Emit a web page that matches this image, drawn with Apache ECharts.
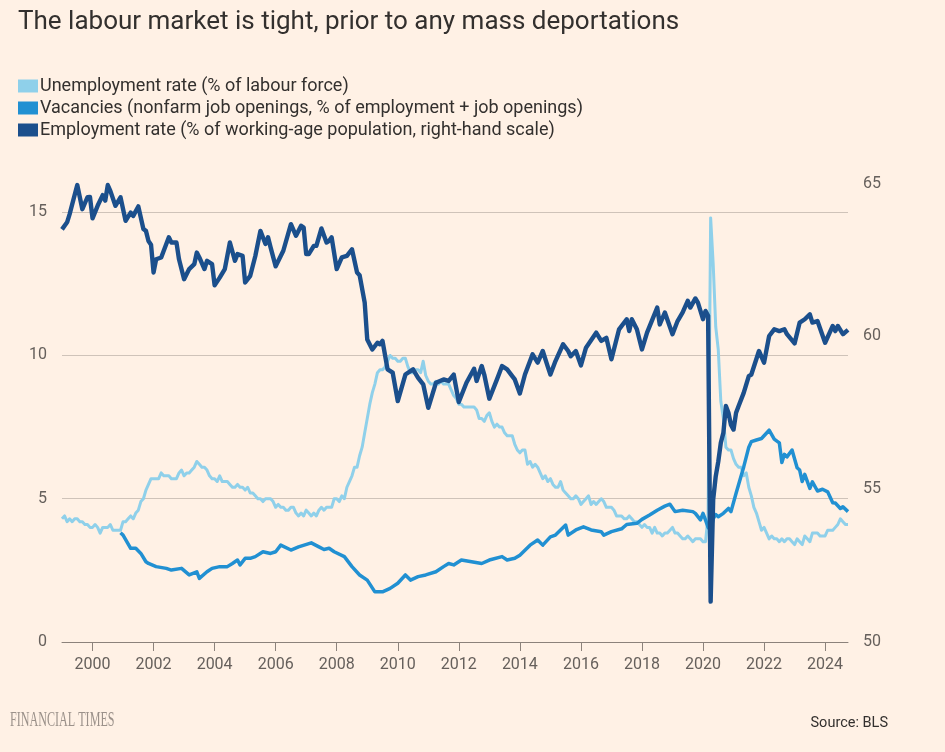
<!DOCTYPE html>
<html>
<head>
<meta charset="utf-8">
<script src="https://cdn.jsdelivr.net/npm/echarts@6/dist/echarts.min.js"></script>
<style>
  html, body { margin: 0; padding: 0; background: #fff1e5; }
  #chart { width: 945px; height: 752px; }
</style>
</head>
<body>
<div id="chart"></div>
<script>
// ---------------- DATA ----------------
const titleText = 'The labour market is tight, prior to any mass deportations';
const seriesNames = [
  'Unemployment rate (% of labour force)',
  'Vacancies (nonfarm job openings, % of employment + job openings)',
  'Employment rate (% of working-age population, right-hand scale)'
];
const sourceText = 'Source: BLS';
const brandText = 'FINANCIAL TIMES';

// monthly categories Jan 1999 .. Oct 2024
const firstYear = 1999, lastYear = 2024, lastMonth = 10;
const months = [];
for (let y = firstYear; y <= lastYear; y++) {
  for (let m = 1; m <= 12; m++) {
    if (y === lastYear && m > lastMonth) break;
    months.push(y + '-' + (m < 10 ? '0' + m : '' + m));
  }
}

// Unemployment rate, monthly from 1999-01 (left axis)
const unemploymentRate = [
  4.3,4.4,4.2,4.3,4.2,4.3,4.3,4.2,4.2,4.1,4.1,4.0,
  4.0,4.1,4.0,3.8,4.0,4.0,4.0,4.1,3.9,3.9,3.9,3.9,
  4.2,4.2,4.3,4.4,4.3,4.5,4.6,4.9,5.0,5.3,5.5,5.7,
  5.7,5.7,5.7,5.9,5.8,5.8,5.8,5.7,5.7,5.7,5.9,6.0,
  5.8,5.9,5.9,6.0,6.1,6.3,6.2,6.1,6.1,6.0,5.8,5.7,
  5.7,5.6,5.8,5.6,5.6,5.6,5.5,5.4,5.4,5.5,5.4,5.4,
  5.3,5.4,5.2,5.2,5.1,5.0,5.0,4.9,5.0,5.0,5.0,4.9,
  4.7,4.8,4.7,4.7,4.6,4.6,4.7,4.7,4.5,4.4,4.5,4.4,
  4.6,4.5,4.4,4.5,4.4,4.6,4.7,4.6,4.7,4.7,4.7,5.0,
  5.0,4.9,5.1,5.0,5.4,5.6,5.8,6.1,6.1,6.5,6.8,7.3,
  7.8,8.3,8.7,9.0,9.4,9.5,9.5,9.6,9.8,10.0,9.9,9.9,
  9.8,9.8,9.9,9.9,9.6,9.4,9.4,9.5,9.5,9.4,9.8,9.3,
  9.1,9.0,9.0,9.1,9.0,9.1,9.0,9.0,9.0,8.8,8.6,8.5,
  8.3,8.3,8.2,8.2,8.2,8.2,8.2,8.1,7.8,7.8,7.7,7.9,
  8.0,7.7,7.5,7.6,7.5,7.5,7.3,7.2,7.2,7.2,6.9,6.7,
  6.6,6.7,6.7,6.2,6.3,6.1,6.2,6.1,5.9,5.7,5.8,5.6,
  5.7,5.5,5.4,5.4,5.6,5.3,5.2,5.1,5.0,5.0,5.1,5.0,
  4.8,4.9,5.0,5.1,4.8,4.9,4.8,4.9,5.0,4.9,4.7,4.7,
  4.7,4.6,4.4,4.4,4.4,4.3,4.3,4.4,4.3,4.2,4.2,4.1,
  4.0,4.1,4.0,4.0,3.8,4.0,3.8,3.8,3.7,3.8,3.8,3.9,
  4.0,3.8,3.8,3.7,3.6,3.6,3.7,3.6,3.5,3.6,3.6,3.6,
  3.5,3.5,4.4,14.8,13.2,11.0,10.2,8.4,7.8,6.8,6.7,6.7,
  6.4,6.2,6.1,6.1,5.8,5.9,5.4,5.1,4.7,4.5,4.2,3.9,
  4.0,3.8,3.6,3.7,3.6,3.6,3.5,3.6,3.5,3.6,3.6,3.5,
  3.4,3.6,3.5,3.4,3.7,3.6,3.5,3.8,3.8,3.8,3.7,3.7,
  3.7,3.9,3.9,3.9,4.0,4.1,4.3,4.2,4.1,4.1
];

// Vacancies (job openings rate), [month, value] (left axis)
const vacancies = [
  ['2000-12',3.81],['2001-01',3.73],['2001-04',3.27],['2001-06',3.27],['2001-08',3.09],
  ['2001-10',2.80],['2001-11',2.74],['2002-02',2.63],['2002-06',2.57],['2002-08',2.51],
  ['2002-12',2.57],['2003-03',2.34],['2003-06',2.45],['2003-07',2.22],['2003-10',2.45],
  ['2003-12',2.57],['2004-03',2.63],['2004-06',2.63],['2004-08',2.74],['2004-10',2.86],
  ['2004-11',2.69],['2005-01',2.92],['2005-03',2.92],['2005-05',2.98],['2005-08',3.15],
  ['2005-11',3.09],['2006-01',3.15],['2006-03',3.38],['2006-07',3.21],['2006-10',3.32],
  ['2007-03',3.46],['2007-06',3.32],['2007-08',3.23],['2007-10',3.27],['2007-12',3.15],
  ['2008-04',2.98],['2008-07',2.63],['2008-10',2.34],['2009-01',2.16],['2009-04',1.75],
  ['2009-07',1.75],['2009-10',1.87],['2010-01',2.05],['2010-04',2.34],['2010-06',2.16],
  ['2010-09',2.28],['2010-12',2.34],['2011-04',2.45],['2011-07',2.63],['2011-09',2.74],
  ['2011-11',2.69],['2012-02',2.86],['2012-06',2.80],['2012-10',2.74],['2013-01',2.86],
  ['2013-06',2.98],['2013-08',2.86],['2013-11',2.92],['2014-01',3.03],['2014-05',3.38],
  ['2014-08',3.56],['2014-10',3.38],['2015-01',3.67],['2015-03',3.73],['2015-07',4.08],
  ['2015-08',3.73],['2015-11',3.91],['2016-02',4.02],['2016-05',3.91],['2016-09',3.85],
  ['2016-10',3.73],['2017-01',3.85],['2017-05',3.95],['2017-07',4.10],['2017-11',4.14],
  ['2018-01',4.28],['2018-04',4.43],['2018-07',4.60],['2018-10',4.74],['2018-12',4.81],
  ['2019-02',4.55],['2019-05',4.60],['2019-09',4.55],['2019-10',4.49],['2019-12',4.26],
  ['2020-01',4.49],['2020-02',4.25],['2020-03',4.00],['2020-04',3.90],['2020-05',4.30],
  ['2020-06',4.45],['2020-07',4.37],['2020-09',4.49],['2020-11',4.66],['2020-12',4.55],
  ['2021-02',5.19],['2021-05',6.11],['2021-07',6.80],['2021-08',6.99],['2021-10',7.05],
  ['2021-12',7.10],['2022-03',7.39],['2022-05',7.08],['2022-07',6.95],['2022-08',6.26],
  ['2022-09',6.55],['2022-10',6.46],['2022-12',6.70],['2023-02',6.08],['2023-03',6.00],
  ['2023-04',5.60],['2023-05',5.85],['2023-07',5.36],['2023-08',5.59],['2023-10',5.27],
  ['2023-12',5.33],['2024-02',5.24],['2024-04',4.86],['2024-05',4.85],['2024-07',4.66],
  ['2024-08',4.72],['2024-10',4.55]
];

// Employment rate, [month, value] (right axis)
const employmentRate = [
  ['1999-01',63.50],['1999-03',63.73],['1999-04',64.00],['1999-07',64.95],['1999-09',64.16],
  ['1999-11',64.55],['1999-12',64.56],['2000-01',63.86],['2000-03',64.27],['2000-05',64.62],
  ['2000-06',64.44],['2000-07',64.95],['2000-08',64.76],['2000-10',64.27],['2000-12',64.55],
  ['2001-02',63.78],['2001-04',64.05],['2001-05',63.94],['2001-07',64.25],['2001-09',63.51],
  ['2001-10',63.45],['2001-11',63.12],['2001-12',63.00],['2002-01',62.09],['2002-02',62.52],
  ['2002-04',62.58],['2002-07',63.24],['2002-08',63.07],['2002-10',63.07],['2002-11',62.52],
  ['2003-01',61.87],['2003-03',62.20],['2003-05',62.36],['2003-06',62.74],['2003-07',62.58],
  ['2003-09',62.20],['2003-10',62.47],['2003-12',62.36],['2004-01',61.67],['2004-03',61.92],
  ['2004-05',62.20],['2004-07',63.07],['2004-09',62.47],['2004-10',62.69],['2004-12',62.63],
  ['2005-01',61.76],['2005-03',61.98],['2005-05',62.63],['2005-07',63.45],['2005-09',63.02],
  ['2005-10',63.24],['2005-11',62.91],['2006-01',62.29],['2006-04',62.80],['2006-07',63.67],
  ['2006-09',63.29],['2006-11',63.62],['2006-12',63.56],['2007-01',62.69],['2007-02',62.69],
  ['2007-04',62.96],['2007-05',62.96],['2007-07',63.53],['2007-09',63.07],['2007-10',63.12],
  ['2007-11',63.24],['2008-01',62.20],['2008-03',62.58],['2008-05',62.63],['2008-07',62.85],
  ['2008-09',62.09],['2008-10',62.00],['2008-12',61.10],['2009-01',59.90],['2009-03',59.57],
  ['2009-05',59.79],['2009-06',59.74],['2009-07',59.85],['2009-09',58.92],['2009-11',58.81],
  ['2010-01',57.88],['2010-04',58.75],['2010-07',58.92],['2010-09',58.64],['2010-11',58.43],
  ['2011-01',57.66],['2011-04',58.48],['2011-07',58.59],['2011-09',58.54],['2011-11',58.75],
  ['2012-01',57.85],['2012-04',58.48],['2012-07',58.94],['2012-08',58.54],['2012-10',59.03],
  ['2012-11',58.75],['2013-01',57.96],['2013-04',58.59],['2013-06',59.03],['2013-08',58.92],
  ['2013-10',58.70],['2013-11',58.59],['2014-01',58.13],['2014-03',58.75],['2014-06',59.41],
  ['2014-08',59.14],['2014-10',59.52],['2014-12',59.00],['2015-01',58.75],['2015-03',59.19],
  ['2015-06',59.74],['2015-08',59.52],['2015-09',59.35],['2015-11',59.52],['2016-01',59.05],
  ['2016-03',59.63],['2016-07',60.12],['2016-09',59.85],['2016-11',59.95],['2017-01',59.25],
  ['2017-04',60.23],['2017-07',60.56],['2017-08',60.17],['2017-09',60.56],['2017-11',60.23],
  ['2018-01',59.57],['2018-03',60.12],['2018-07',60.94],['2018-08',60.39],['2018-10',60.78],
  ['2019-01',60.07],['2019-03',60.50],['2019-05',60.78],['2019-07',61.16],['2019-08',60.94],
  ['2019-10',61.24],['2019-11',61.10],['2020-01',60.56],['2020-02',60.83],['2020-03',60.67],
  ['2020-04',51.32],['2020-05',54.66],['2020-06',55.42],['2020-07',55.90],['2020-08',56.52],
  ['2020-09',56.84],['2020-10',57.72],['2020-11',57.50],['2020-12',57.10],['2021-01',56.95],
  ['2021-02',57.50],['2021-03',57.72],['2021-05',58.15],['2021-07',58.70],['2021-08',58.75],
  ['2021-11',59.52],['2022-01',59.14],['2022-03',60.01],['2022-05',60.23],['2022-07',60.17],
  ['2022-09',60.23],['2022-10',60.07],['2023-01',59.77],['2023-03',60.45],['2023-05',60.56],
  ['2023-07',60.72],['2023-08',60.45],['2023-10',60.50],['2024-01',59.79],['2024-04',60.34],
  ['2024-05',60.17],['2024-06',60.34],['2024-08',60.07],['2024-10',60.21]
];

const leftTicks = [0, 5, 10, 15];
const rightTicks = [50, 55, 60, 65];

// ---------------- STYLE ----------------
const colors = ['#8fd0ea', '#2190d2', '#1b4f8c'];
const FONT = 'Roboto, "Noto Sans", sans-serif';
const textColor = '#33302e';
const axisTextColor = '#66605c';

const isYearTick = (idx, val) => {
  const s = String(val);
  return s.slice(5) === '01' && Number(s.slice(0, 4)) % 2 === 0;
};

const chart = echarts.init(document.getElementById('chart'), null, { renderer: 'canvas' });
chart.setOption({
  backgroundColor: '#fff1e5',
  animation: false,
  title: {
    text: titleText,
    left: 13, top: 4,
    textStyle: { fontFamily: FONT, fontSize: 26, fontWeight: 'normal', color: textColor }
  },
  legend: {
    orient: 'vertical',
    left: 13, top: 70,
    icon: 'rect',
    itemWidth: 20, itemHeight: 13,
    itemGap: 0,
    selectedMode: false,
    textStyle: { fontFamily: FONT, fontSize: 18, color: textColor, lineHeight: 22, padding: [0, 0, 0, -3] },
    data: seriesNames
  },
  grid: { left: 62, right: 97, top: 183.5, bottom: 110 },
  xAxis: {
    type: 'category',
    data: months,
    boundaryGap: false,
    axisLine: { show: true, lineStyle: { color: '#8c827b', width: 1 } },
    axisTick: { show: true, interval: isYearTick, length: 9, lineStyle: { color: '#8c827b' } },
    axisLabel: {
      interval: isYearTick, margin: 15,
      formatter: v => v.slice(0, 4),
      fontFamily: FONT, fontSize: 16, color: axisTextColor
    },
    splitLine: { show: false }
  },
  yAxis: [
    {
      type: 'value', min: leftTicks[0], max: 16, interval: 5,
      axisLine: { show: false }, axisTick: { show: false },
      axisLabel: { margin: 15, showMaxLabel: false, fontFamily: FONT, fontSize: 16, color: axisTextColor },
      splitLine: { show: true, showMinLine: false, showMaxLine: false, lineStyle: { color: '#cfc3b9', width: 1 } }
    },
    {
      type: 'value', min: rightTicks[0], max: rightTicks[rightTicks.length - 1], interval: 5,
      position: 'right',
      axisLine: { show: false }, axisTick: { show: false },
      axisLabel: { margin: 15, align: 'left', fontFamily: FONT, fontSize: 16, color: axisTextColor },
      splitLine: { show: false }
    }
  ],
  series: [
    {
      name: seriesNames[0], type: 'line', yAxisIndex: 0, data: unemploymentRate,
      showSymbol: false, symbol: 'none', color: colors[0],
      lineStyle: { width: 3, color: colors[0], join: 'round' }, z: 2
    },
    {
      name: seriesNames[1], type: 'line', yAxisIndex: 0, data: vacancies,
      showSymbol: false, symbol: 'none', color: colors[1],
      lineStyle: { width: 3.5, color: colors[1], join: 'round' }, z: 3
    },
    {
      name: seriesNames[2], type: 'line', yAxisIndex: 1, data: employmentRate,
      showSymbol: false, symbol: 'none', color: colors[2],
      lineStyle: { width: 4.4, color: colors[2], join: 'round' }, z: 4
    }
  ],
  graphic: [
    {
      type: 'text', left: 10, top: 709,
      scaleX: 0.55,
      style: { text: brandText, fontFamily: '"Liberation Serif", "DejaVu Serif", serif', fontSize: 22, fill: '#9b918a' }
    },
    {
      type: 'text', right: 57, top: 716,
      style: { text: sourceText, fontFamily: FONT, fontSize: 14.5, fill: textColor }
    }
  ]
});
</script>
</body>
</html>
